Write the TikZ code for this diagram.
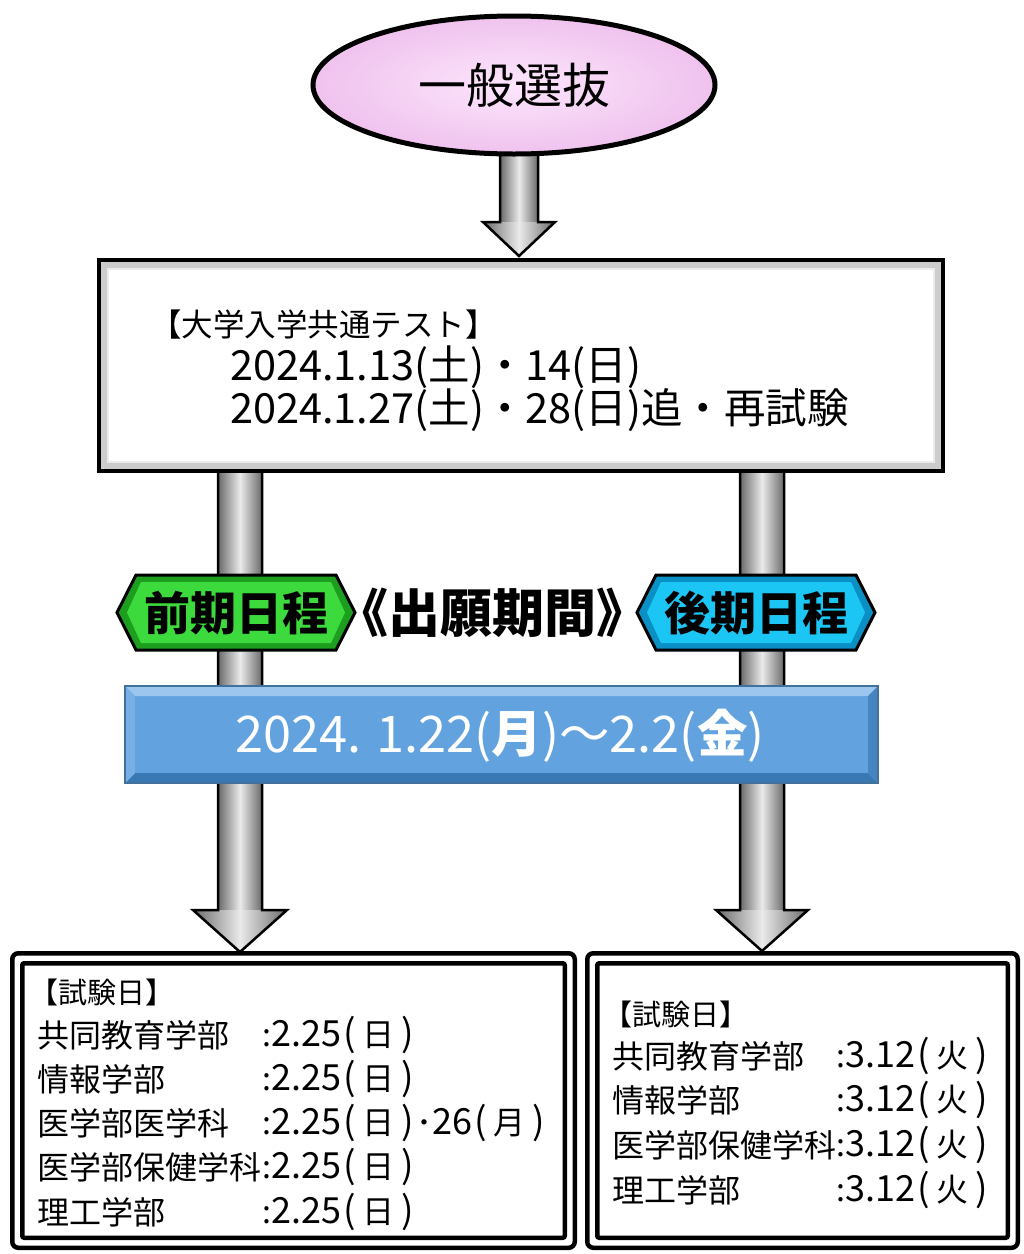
\documentclass[tikz,border=0pt]{standalone}
\usepackage{fontspec}
\setmainfont{Noto Sans CJK JP}
\usetikzlibrary{shapes.geometric}
\definecolor{gdark}{HTML}{6A6A6A}
\definecolor{glight}{HTML}{EAEAEA}
\definecolor{pinkin}{HTML}{FDE6FC}
\definecolor{pinkout}{HTML}{EFC2EE}
\definecolor{grface}{HTML}{3CDA3C}
\definecolor{gredge}{HTML}{1E9E1E}
\definecolor{cyface}{HTML}{1CC6F4}
\definecolor{cyedge}{HTML}{0A90C4}
\definecolor{blface}{HTML}{62A2DE}
\definecolor{bltop}{HTML}{9CC6EE}
\definecolor{blbot}{HTML}{3A78B4}
\definecolor{blleft}{HTML}{78B0E6}
\definecolor{blright}{HTML}{4684C2}
\definecolor{blline}{HTML}{41719C}
\newcommand\fatdown[6]{%
  \shade[left color=gdark, right color=gdark, middle color=glight] (#1-#5,#2) rectangle (#1+#5,#3);
  \shade[left color=gdark, right color=gdark, middle color=glight] (#1-#6,#3) -- (#1+#6,#3) -- (#1,#4) -- cycle;
  \draw[line width=2.5, line join=miter] (#1-#5,#2) -- (#1-#5,#3) -- (#1-#6,#3) -- (#1,#4) -- (#1+#6,#3) -- (#1+#5,#3) -- (#1+#5,#2);
}
\newcommand\dnum[1]{{\fontsize{36}{36}\selectfont #1}}
\newcommand\bigpar[1]{{\fontsize{37}{37}\selectfont #1}}
\newcommand\fparen[1]{\kern2pt\bigpar{(}\kern7pt#1\kern7pt\bigpar{)}}
\tikzset{
  hd/.style={inner sep=0, anchor=west, font=\fontsize{29}{32}\selectfont},
  row/.style={inner sep=0, anchor=west, font=\fontsize{32}{36}\selectfont},
  big/.style={inner sep=0, font=\fontsize{41.5}{46}\selectfont},
  signtext/.style={inner sep=0, font=\bfseries\fontsize{46}{52}\selectfont},
  dblouter/.style={draw, line width=4.5, rounded corners=6, inner sep=0},
  dblinner/.style={draw, line width=4.5, rounded corners=2, inner sep=0},
}
\begin{document}
\begin{tikzpicture}[x=1pt,y=-1pt]
\useasboundingbox (0,0) rectangle (1024,1254);

% pipes with arrowheads
\fatdown{240}{465}{910}{952}{22}{47}
\fatdown{762}{465}{910}{951}{22}{46}
% top arrow
\fatdown{519}{150}{222}{256}{19}{36}

% ellipse
\node[ellipse, draw=black, line width=5, inner color=pinkin, outer color=pinkout,
      minimum width=402, minimum height=138, inner sep=0,
      font=\fontsize{48}{56}\selectfont] (ippan) at (514,85) {一般選抜};

% common test box
\node[draw, line width=4, fill=gray!40, minimum width=844, minimum height=211, inner sep=0] (kyotsu) at (521,365.5) {};
\node[fill=white, draw=gray!15, line width=2, minimum width=826, minimum height=193, inner sep=0] (kyotsuin) at (kyotsu.center) {};
\node[hd, font=\fontsize{31.5}{34}\selectfont] (kt0) at (150,325) {【大学入学共通テスト】};
\node[big, anchor=west] (kt1) at (230,367) {2024.1.13(土)・14(日)};
\node[big, anchor=west] (kt2) at (230,410) {2024.1.27(土)・28(日)追・再試験};

% green sign
\filldraw[fill=gredge, draw=black, line width=3, line join=miter]
  (117,612.5) -- (136,575) -- (336,575) -- (355,612.5) -- (336,650) -- (136,650) -- cycle;
\fill[grface] (127,612.5) -- (141,582) -- (331,582) -- (345,612.5) -- (331,643) -- (141,643) -- cycle;
\node[signtext] (zenki) at (236,613) {前期日程};

% cyan sign
\filldraw[fill=cyedge, draw=black, line width=3, line join=miter]
  (637,612.5) -- (656,575) -- (856,575) -- (875,612.5) -- (856,650) -- (656,650) -- cycle;
\fill[cyface] (647,612.5) -- (661,582) -- (851,582) -- (865,612.5) -- (851,643) -- (661,643) -- cycle;
\node[signtext] (koki) at (756,613) {後期日程};

% middle label
\node[signtext, font=\bfseries\fontsize{52}{58}\selectfont] (shutsugan) at (492.5,612.5) {《出願期間》};

% blue period box
\node[draw=blline, line width=1.5, fill=blface, minimum width=753, minimum height=97, inner sep=0] (period) at (501.5,734.5) {};
\fill[bltop] (125,686) -- (878,686) -- (868,696) -- (135,696) -- cycle;
\fill[blbot] (125,783) -- (878,783) -- (868,773) -- (135,773) -- cycle;
\fill[blleft] (125,686) -- (135,696) -- (135,773) -- (125,783) -- cycle;
\fill[blright] (878,686) -- (868,696) -- (868,773) -- (878,783) -- cycle;
\draw[blline, line width=1.5] (125,686) rectangle (878,783);
\node[inner sep=0, text=white, font=\fontsize{50.5}{56}\selectfont] (periodtxt) at (500,736) {2024. 1.22({\bfseries 月})～2.2({\bfseries 金})};

% bottom left box
\node[dblouter, minimum width=562.5, minimum height=294.5] (zbox) at (293.5,1100.5) {};
\node[dblinner, minimum width=542.5, minimum height=274.5] (zboxin) at (zbox.center) {};
\node[hd] (z0) at (29,992) {【試験日】};
\node[row] (z1a) at (37,1035) {共同教育学部};
\node[row] (z1b) at (262,1035) {:\dnum{2.25}\fparen{日}};
\node[row] (z2a) at (37,1079) {情報学部};
\node[row] (z2b) at (262,1079) {:\dnum{2.25}\fparen{日}};
\node[row] (z3a) at (37,1123) {医学部医学科};
\node[row] (z3b) at (262,1123) {:\dnum{2.25}\fparen{日}\kern2pt･\dnum{26}\fparen{月}};
\node[row] (z4a) at (37,1167) {医学部保健学科};
\node[row] (z4b) at (262,1167) {:\dnum{2.25}\fparen{日}};
\node[row] (z5a) at (37,1212) {理工学部};
\node[row] (z5b) at (262,1212) {:\dnum{2.25}\fparen{日}};

% bottom right box
\node[dblouter, minimum width=430.5, minimum height=294.5] (kbox) at (802.5,1100.5) {};
\node[dblinner, minimum width=410.5, minimum height=274.5] (kboxin) at (kbox.center) {};
\node[hd] (k0) at (603,1014) {【試験日】};
\node[row] (k1a) at (612,1056) {共同教育学部};
\node[row] (k1b) at (836,1056) {:\dnum{3.12}\fparen{火}};
\node[row] (k2a) at (612,1100) {情報学部};
\node[row] (k2b) at (836,1100) {:\dnum{3.12}\fparen{火}};
\node[row] (k3a) at (612,1145) {医学部保健学科};
\node[row] (k3b) at (836,1145) {:\dnum{3.12}\fparen{火}};
\node[row] (k4a) at (612,1190) {理工学部};
\node[row] (k4b) at (836,1190) {:\dnum{3.12}\fparen{火}};
\end{tikzpicture}
\end{document}
